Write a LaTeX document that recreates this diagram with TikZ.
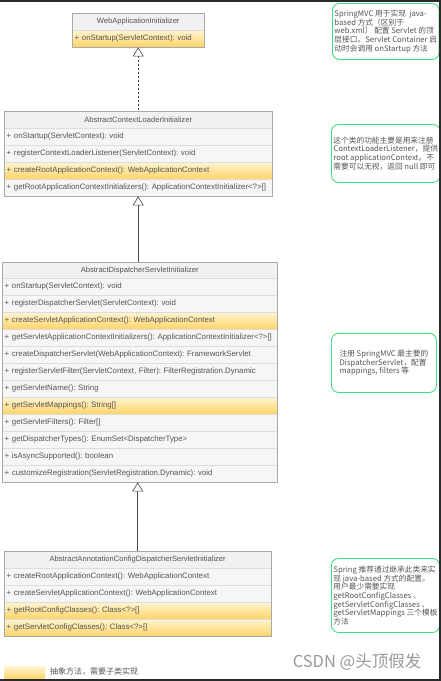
\documentclass[tikz,border=0pt]{standalone}
\usepackage{fontspec}
\setmainfont{Liberation Sans}
\newfontfamily\cjk{Noto Sans CJK SC}
\usetikzlibrary{arrows.meta}
\frenchspacing
\definecolor{txt}{HTML}{555555}
\definecolor{boxline}{HTML}{A9A9A9}
\definecolor{sepline}{HTML}{DDDDDD}
\definecolor{cellfill}{HTML}{F6F6F6}
\definecolor{hdrfill}{HTML}{F1F1F1}
\definecolor{ylt}{HTML}{FFF4D2}
\definecolor{ydk}{HTML}{FFD466}
\definecolor{notegreen}{HTML}{3FE07F}
\definecolor{framecol}{HTML}{2A2A2A}
\definecolor{wm}{HTML}{9A9A9A}
\definecolor{conn}{HTML}{444444}
\begin{document}
\begin{tikzpicture}[x=1pt,y=-1pt,
  cell/.style={draw=sepline, fill=cellfill, anchor=north west, minimum height=17pt, inner xsep=2.5pt, inner ysep=0pt, text=txt, font=\fontsize{7.85}{9}\selectfont\frenchspacing, align=left},
  hdr/.style={cell, fill=hdrfill, align=center, font=\fontsize{7.6}{9}\selectfont},
  yrow/.style={cell, top color=ylt, bottom color=ydk},
  classbox/.style={draw=boxline, line width=0.6pt},
  gen/.style={draw=conn, line width=0.6pt, {Triangle[open, width=11pt, length=9pt, fill=white]}-},
  real/.style={gen, dash pattern=on 2pt off 2pt},
  note/.style={draw=notegreen, line width=0.9pt, rounded corners=7pt, anchor=north west, inner xsep=2pt, align=left, text=txt, font=\cjk\fontsize{7.7}{8.6}\selectfont\frenchspacing},
]
\useasboundingbox (0,0) rectangle (441,681);
\fill[white] (0,0) rectangle (441,681);

% class 1
\node[hdr, text width=127pt] (a0) at (72,13) {WebApplicationInitializer};
\node[yrow, text width=127pt] (a1) at (72,30) {+ onStartup(ServletContext): void};
\draw[classbox] (a0.north west) rectangle (a1.south east);

% class 2
\node[hdr, text width=263pt] (b0) at (4,111) {AbstractContextLoaderInitializer};
\node[cell, text width=263pt] (b1) at (4,128) {+ onStartup(ServletContext): void};
\node[cell, text width=263pt] (b2) at (4,145) {+ registerContextLoaderListener(ServletContext): void};
\node[yrow, text width=263pt] (b3) at (4,162) {+ createRootApplicationContext(): WebApplicationContext};
\node[cell, text width=263pt] (b4) at (4,179) {+ getRootApplicationContextInitializers(): ApplicationContextInitializer<?>[]};
\draw[classbox] (b0.north west) rectangle (b4.south east);

% class 3
\node[hdr, text width=270pt, minimum height=16pt] (c0) at (2,262) {AbstractDispatcherServletInitializer};
\node[cell, text width=270pt] (c1) at (2,278) {+ onStartup(ServletContext): void};
\node[cell, text width=270pt] (c2) at (2,295) {+ registerDispatcherServlet(ServletContext): void};
\node[yrow, text width=270pt] (c3) at (2,312) {+ createServletApplicationContext(): WebApplicationContext};
\node[cell, text width=270pt] (c4) at (2,329) {+ getServletApplicationContextInitializers(): ApplicationContextInitializer<?>[]};
\node[cell, text width=270pt] (c5) at (2,346) {+ createDispatcherServlet(WebApplicationContext): FrameworkServlet};
\node[cell, text width=270pt] (c6) at (2,363) {+ registerServletFilter(ServletContext, Filter): FilterRegistration.Dynamic};
\node[cell, text width=270pt] (c7) at (2,380) {+ getServletName(): String};
\node[yrow, text width=270pt] (c8) at (2,397) {+ getServletMappings(): String[]};
\node[cell, text width=270pt] (c9) at (2,414) {+ getServletFilters(): Filter[]};
\node[cell, text width=270pt] (c10) at (2,431) {+ getDispatcherTypes(): EnumSet<DispatcherType>};
\node[cell, text width=270pt] (c11) at (2,448) {+ isAsyncSupported(): boolean};
\node[cell, text width=270pt] (c12) at (2,465) {+ customizeRegistration(ServletRegistration.Dynamic): void};
\draw[classbox] (c0.north west) rectangle (c12.south east);

% class 4
\node[hdr, text width=262pt] (d0) at (4,551) {AbstractAnnotationConfigDispatcherServletInitializer};
\node[cell, text width=262pt] (d1) at (4,568) {+ createRootApplicationContext(): WebApplicationContext};
\node[cell, text width=262pt] (d2) at (4,585) {+ createServletApplicationContext(): WebApplicationContext};
\node[yrow, text width=262pt] (d3) at (4,602) {+ getRootConfigClasses(): Class<?>[]};
\node[yrow, text width=262pt] (d4) at (4,619) {+ getServletConfigClasses(): Class<?>[]};
\draw[classbox] (d0.north west) rectangle (d4.south east);

% connectors
\draw[real] (a1.south) -- (a1.south |- b0.north);
\draw[gen] (b4.south) -- (b4.south |- c0.north);
\draw[gen] (d0.north |- c12.south) -- (d0.north);

% notes
\node[note, minimum width=104pt, minimum height=56pt] (n1) at (332,3) {SpringMVC 用于实现 \ java-\\based 方式（区别于\\web.xml） 配置 Servlet 的顶\\层接口。Servlet Container 启\\动时会调用 onStartup 方法};
\node[note, minimum width=105pt, minimum height=58pt] (n2) at (331,124) {这个类的功能主要是用来注册\\ContextLoaderListener，提供\\root applicationContext。不\\需要可以无视，返回 null 即可};
\node[note, minimum width=105pt, minimum height=59pt] (n3) at (331,333) {注册 SpringMVC 最主要的\\DispatcherServlet，配置\\mappings, filters 等};
\node[note, minimum width=105pt, minimum height=74pt] (n4) at (331,558) {Spring 推荐通过继承此类来实\\现 java-based 方式的配置。\\用户最少需要实现\\getRootConfigClasses 、\\getServletConfigClasses 、\\getServletMappings 三个模板\\方法};

% legend
\node[top color=ylt, bottom color=ydk, minimum width=41pt, minimum height=13pt, anchor=north west, inner sep=0pt] (leg) at (4,666) {};
\node[anchor=west, inner sep=0pt, text=txt, font=\cjk\fontsize{8}{9}\selectfont] (legt) at (50,672) {抽象方法，需要子类实现};

% watermark
\node[text=wm, font=\cjk\fontsize{16.5}{19}\selectfont, inner sep=0pt] (wmk) at (357,662) {CSDN @头顶假发};

% frame
\fill[framecol] (0,0) rectangle (441,1.5);
\fill[framecol] (438.5,0) rectangle (441,681);
\fill[framecol] (0,678.8) rectangle (441,681);
\end{tikzpicture}
\end{document}
